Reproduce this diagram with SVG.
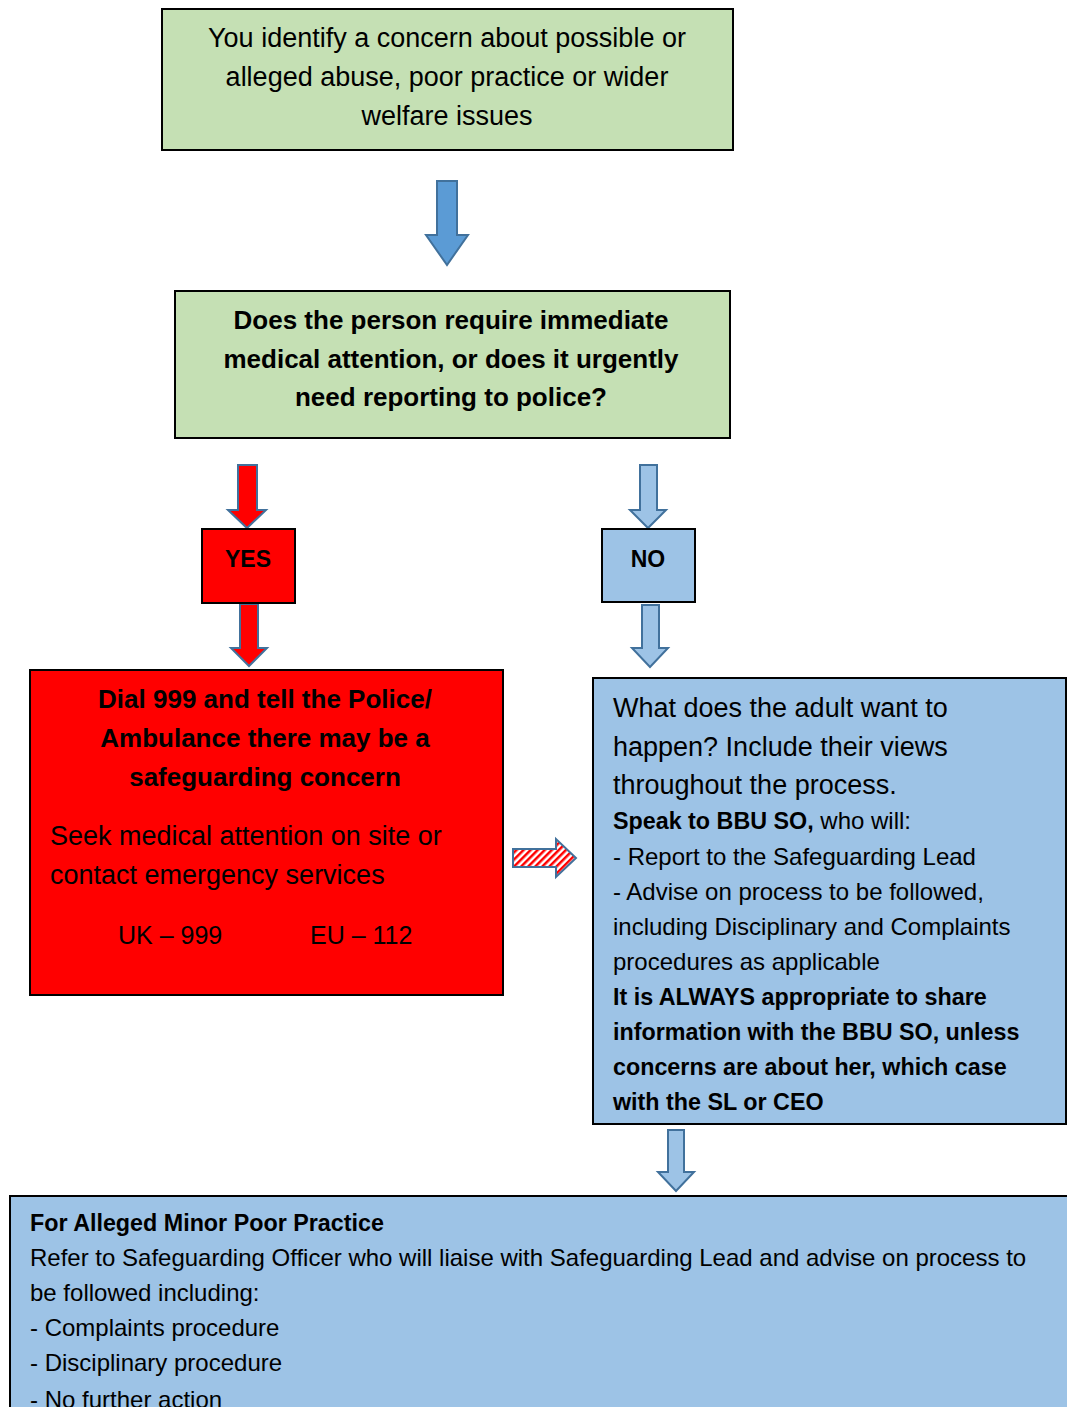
<svg xmlns="http://www.w3.org/2000/svg" width="1067" height="1407" viewBox="0 0 1067 1407">
<style>
.box{stroke:#000;stroke-width:2}
.green{fill:#C5E0B4}
.red{fill:#FF0000}
.blue{fill:#9DC3E6}
.t{font-family:"Liberation Sans",Arial,sans-serif;fill:#000}
.big{font-size:27px}
.num{font-size:25px}
.bigb{font-size:26px;font-weight:bold}
.mid{font-size:24px}
.midb{font-size:23.3px;font-weight:bold}
.lbl{font-size:23px;font-weight:bold}
.c{text-anchor:middle}
.arr{stroke:#41719C;stroke-width:2;stroke-linejoin:miter}
</style>
<defs>
<pattern id="stripes" width="5" height="5" patternUnits="userSpaceOnUse" patternTransform="rotate(45)">
<rect width="5" height="5" fill="#fff"/>
<rect width="2.5" height="5" fill="#FF0000"/>
</pattern>
</defs>
<rect width="1067" height="1407" fill="#fff"/>
<g id="connectors">
<path class="arr" fill="#5B9BD5" d="M437,181 H457 V235 H468 L447,265 L426,235 H437 Z"/>
<path class="arr" fill="#FF0000" d="M238,465 H257 V510 H266 L247,528 L228,510 H238 Z"/>
<path class="arr" fill="#FF0000" d="M240,604 H258 V648 H267 L249,666 L231,648 H240 Z"/>
<path class="arr" fill="#9DC3E6" d="M640,465 H657 V510 H666 L648,528 L630,510 H640 Z"/>
<path class="arr" fill="#9DC3E6" d="M642,605 H659 V648 H668 L650,667 L632,648 H642 Z"/>
<path class="arr" fill="url(#stripes)" d="M513,849 H556 V839 L576,858 L556,877 V867 H513 Z"/>
<path class="arr" fill="#9DC3E6" d="M668,1130 H684 V1172 H694 L676,1191 L658,1172 H668 Z"/>
</g>
<g id="n1">
<rect class="box green" x="162" y="9" width="571" height="141"/>
<text class="t big c" x="447" y="47">You identify a concern about possible or</text>
<text class="t big c" x="447" y="86">alleged abuse, poor practice or wider</text>
<text class="t big c" x="447" y="125">welfare issues</text>
</g>
<g id="n2">
<rect class="box green" x="175" y="291" width="555" height="147"/>
<text class="t bigb c" x="451" y="329">Does the person require immediate</text>
<text class="t bigb c" x="451" y="368">medical attention, or does it urgently</text>
<text class="t bigb c" x="451" y="406">need reporting to police?</text>
</g>
<g id="yes">
<rect class="box red" x="202" y="529" width="93" height="74"/>
<text class="t lbl c" x="248" y="567">YES</text>
</g>
<g id="no">
<rect class="box blue" x="602" y="529" width="93" height="73"/>
<text class="t lbl c" x="648" y="567">NO</text>
</g>
<g id="emergency">
<rect class="box red" x="30" y="670" width="473" height="325"/>
<text class="t bigb c" x="265" y="708">Dial 999 and tell the Police/</text>
<text class="t bigb c" x="265" y="747">Ambulance there may be a</text>
<text class="t bigb c" x="265" y="786">safeguarding concern</text>
<text class="t big" x="50" y="845">Seek medical attention on site or</text>
<text class="t big" x="50" y="884">contact emergency services</text>
<text class="t num" x="118" y="944">UK – 999</text>
<text class="t num" x="310" y="944">EU – 112</text>
</g>
<g id="adult">
<rect class="box blue" x="593" y="678" width="473" height="446"/>
<text class="t big" x="613" y="717">What does the adult want to</text>
<text class="t big" x="613" y="756">happen? Include their views</text>
<text class="t big" x="613" y="794">throughout the process.</text>
<text class="t mid" x="613" y="829"><tspan font-weight="bold" font-size="23.3">Speak to BBU SO,</tspan> who will:</text>
<text class="t mid" x="613" y="865">- Report to the Safeguarding Lead</text>
<text class="t mid" x="613" y="900">- Advise on process to be followed,</text>
<text class="t mid" x="613" y="935">including Disciplinary and Complaints</text>
<text class="t mid" x="613" y="970">procedures as applicable</text>
<text class="t midb" x="613" y="1005">It is ALWAYS appropriate to share</text>
<text class="t midb" x="613" y="1040">information with the BBU SO, unless</text>
<text class="t midb" x="613" y="1075">concerns are about her, which case</text>
<text class="t midb" x="613" y="1110">with the SL or CEO</text>
</g>
<g id="minor">
<rect class="box blue" x="10" y="1196" width="1067" height="230"/>
<text class="t midb" x="30" y="1231">For Alleged Minor Poor Practice</text>
<text class="t mid" x="30" y="1266">Refer to Safeguarding Officer who will liaise with Safeguarding Lead and advise on process to</text>
<text class="t mid" x="30" y="1301">be followed including:</text>
<text class="t mid" x="30" y="1336">- Complaints procedure</text>
<text class="t mid" x="30" y="1371">- Disciplinary procedure</text>
<text class="t mid" x="30" y="1408">- No further action</text>
</g>
</svg>
